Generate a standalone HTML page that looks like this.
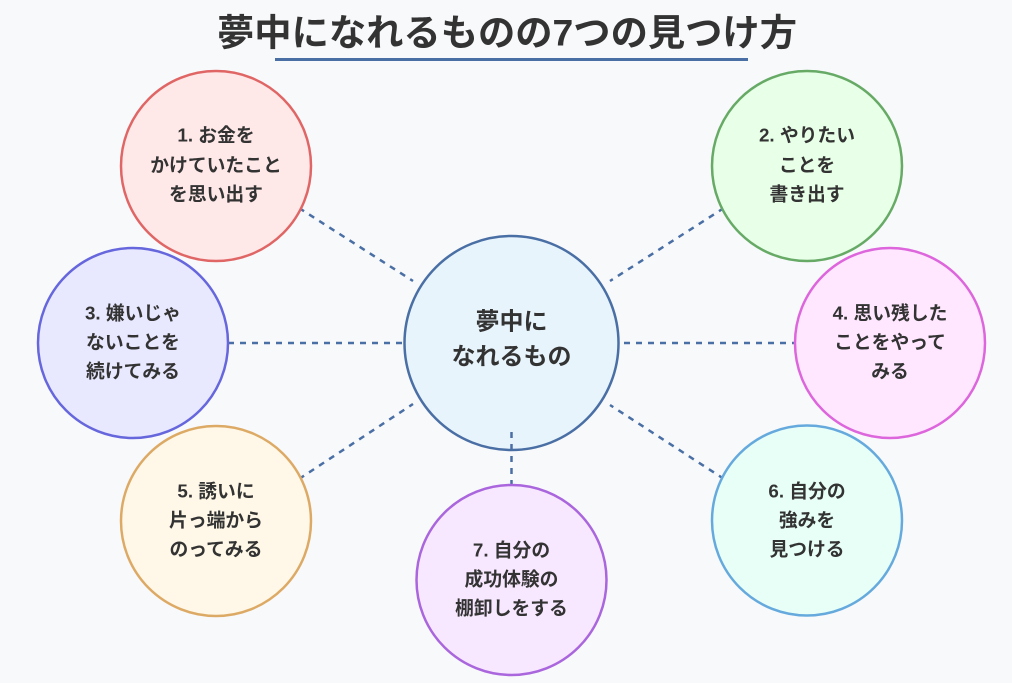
<!DOCTYPE html>
<html>
<head>
<meta charset="utf-8">
<style>
  html, body { margin: 0; padding: 0; background: #f8f9fb; }
  body { width: 1012px; height: 683px; overflow: hidden; }
  svg { display: block; }
  text { font-family: "Liberation Sans", "Noto Sans CJK JP", sans-serif; font-weight: bold; fill: #333333; }
</style>
</head>
<body>
<svg width="1012" height="683" viewBox="0 0 1012 683" xmlns="http://www.w3.org/2000/svg">
  <rect x="0" y="0" width="1012" height="683" fill="#f8f9fb"/>

  <!-- Title -->
  <text x="507" y="33" font-size="37" text-anchor="middle" dominant-baseline="central" textLength="580" lengthAdjust="spacingAndGlyphs">夢中になれるものの7つの見つけ方</text>
  <line x1="275" y1="59.5" x2="748" y2="59.5" stroke="#4a6fa5" stroke-width="3"/>

  <!-- Center circle -->
  <circle cx="511.5" cy="343" r="107" fill="#e8f4fc" stroke="#4a6fa5" stroke-width="2.5"/>

  <!-- Connectors -->
  <g stroke="#4a6fa5" stroke-width="2.5" stroke-dasharray="6,6" fill="none">
    <line x1="299" y1="208" x2="413" y2="281"/>
    <line x1="724" y1="208" x2="610" y2="281"/>
    <line x1="228" y1="343" x2="402" y2="343"/>
    <line x1="624" y1="343" x2="795" y2="343"/>
    <line x1="299" y1="479" x2="413" y2="404"/>
    <line x1="724" y1="479" x2="610" y2="405"/>
    <line x1="511.5" y1="432" x2="511.5" y2="485"/>
  </g>

  <!-- Outer circles -->
  <circle cx="216" cy="166" r="95" fill="#ffe8e8" stroke="#e06666" stroke-width="2.5"/>
  <circle cx="807" cy="166" r="95" fill="#e8ffe8" stroke="#66aa66" stroke-width="2.5"/>
  <circle cx="133" cy="343" r="95" fill="#e8e8ff" stroke="#6666dd" stroke-width="2.5"/>
  <circle cx="890" cy="343" r="95" fill="#ffe8ff" stroke="#dd66dd" stroke-width="2.5"/>
  <circle cx="216" cy="521" r="95" fill="#fff8e8" stroke="#ddaa66" stroke-width="2.5"/>
  <circle cx="807" cy="520.5" r="95" fill="#e8fff8" stroke="#66aadd" stroke-width="2.5"/>
  <circle cx="511.5" cy="580" r="95" fill="#f8e8ff" stroke="#aa66dd" stroke-width="2.5"/>

  <!-- Center label -->
  <g font-size="24" text-anchor="middle" dominant-baseline="central">
    <text x="511.5" y="322" dominant-baseline="central">夢中に</text>
    <text x="511.5" y="357" dominant-baseline="central">なれるもの</text>
  </g>

  <!-- Node labels -->
  <g font-size="18.8" text-anchor="middle">
    <text x="216" y="135" dominant-baseline="central">1. お金を</text>
    <text x="216" y="165" dominant-baseline="central">かけていたこと</text>
    <text x="216" y="194" dominant-baseline="central">を思い出す</text>

    <text x="807" y="135" dominant-baseline="central">2. やりたい</text>
    <text x="807" y="165" dominant-baseline="central">ことを</text>
    <text x="807" y="194" dominant-baseline="central">書き出す</text>

    <text x="133" y="313" dominant-baseline="central">3. 嫌いじゃ</text>
    <text x="133" y="342" dominant-baseline="central">ないことを</text>
    <text x="133" y="371" dominant-baseline="central">続けてみる</text>

    <text x="890" y="313" dominant-baseline="central">4. 思い残した</text>
    <text x="890" y="342" dominant-baseline="central">ことをやって</text>
    <text x="890" y="371" dominant-baseline="central">みる</text>

    <text x="216" y="491" dominant-baseline="central">5. 誘いに</text>
    <text x="216" y="520" dominant-baseline="central">片っ端から</text>
    <text x="216" y="549" dominant-baseline="central">のってみる</text>

    <text x="807" y="491" dominant-baseline="central">6. 自分の</text>
    <text x="807" y="520" dominant-baseline="central">強みを</text>
    <text x="807" y="549" dominant-baseline="central">見つける</text>

    <text x="511.5" y="550" dominant-baseline="central">7. 自分の</text>
    <text x="511.5" y="579" dominant-baseline="central">成功体験の</text>
    <text x="511.5" y="608" dominant-baseline="central">棚卸しをする</text>
  </g>
</svg>
</body>
</html>
